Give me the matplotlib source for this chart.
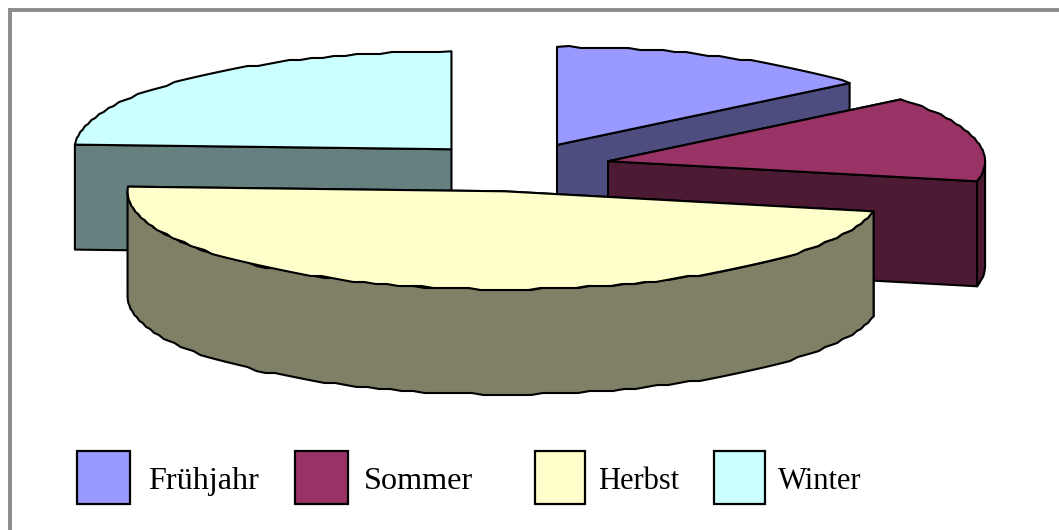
import numpy as np
import matplotlib
matplotlib.use("Agg")
import matplotlib.pyplot as plt
from matplotlib.patches import Polygon, Rectangle

# Data
seasons = ["Frühjahr", "Sommer", "Herbst", "Winter"]
shares = [14, 14, 47, 24]

# Styles
top_colors = ["#9999FF", "#993366", "#FFFFCC", "#CCFFFF"]
side_colors = ["#4D4D80", "#4D1A33", "#808066", "#668080"]
CX, CY = 516.5, 167
A, B = 377, 98
DEPTH = 105
EXPLODE = 0.25
START = 90.0
draw_order = [3, 0, 1, 2]
legend_box_x = [77, 295, 535, 714]
legend_box_w = [53, 53, 50, 51]
legend_text_x = [148.5, 363.5, 598, 778]
legend_font = [23.2, 23.2, 22, 22]

fig = plt.figure(figsize=(10.59, 5.30), dpi=100, facecolor="white")
ax = fig.add_axes([0, 0, 1, 1])
ax.set_xlim(0, 1059)
ax.set_ylim(530, 0)
ax.axis("off")

# Frame: only left and top sides are inside the crop
ax.plot([9.5, 9.5, 1059], [530, 9.5, 9.5], color="#8C8C8C", lw=2.8,
        solid_joinstyle="miter", zorder=0)


def rim(t1, t2, ox, oy):
    """Outline points between two parametric angles (degrees), slightly
    quantised like the low-resolution arc of the original."""
    n = max(2, int(abs(t2 - t1) / 1.8) + 1)
    t = np.radians(np.linspace(t1, t2, n))
    x = ox + A * np.cos(t)
    y = oy - B * np.sin(t)
    qx, qy = x.copy(), np.round(y / 2.0) * 2.0
    qx[0], qy[0], qx[-1], qy[-1] = x[0], y[0], x[-1], y[-1]
    return np.column_stack([qx, qy])


def add(pts, color, z):
    ax.add_patch(Polygon(pts, closed=True, facecolor=color, edgecolor="black",
                         lw=1.5, joinstyle="round", zorder=z))


total = float(sum(shares))
spans = [s / total * 360.0 for s in shares]
starts = START - np.concatenate([[0.0], np.cumsum(spans)[:-1]])
ends = starts - np.array(spans)

z = 2
for i in draw_order:
    t1, t2 = starts[i], ends[i]
    mid = np.radians((t1 + t2) / 2.0)
    ox = CX + EXPLODE * A * np.cos(mid)
    oy = CY - EXPLODE * B * np.sin(mid)
    arc = rim(t1, t2, ox, oy)
    down = np.array([0, DEPTH])
    apex = np.array([ox, oy])

    # Cut faces of the slice
    for p in (arc[0], arc[-1]):
        if abs(p[0] - apex[0]) > 1:
            add(np.array([apex, p, p + down, apex + down]), side_colors[i], z)
            z += 1

    # Outer wall: the part of the arc on the front half
    lo, hi = min(t1, t2), max(t1, t2)
    for a, b in ((-180.0, 0.0), (-540.0, -360.0), (180.0, 360.0)):
        u, v = max(lo, a), min(hi, b)
        if v > u:
            front = rim(v, u, ox, oy)
            add(np.vstack([front, (front + down)[::-1]]), side_colors[i], z)
            z += 1

    add(np.vstack([apex, arc]), top_colors[i], z)
    z += 1

# Legend
for name, col, bx, bw, tx, fs in zip(seasons, top_colors, legend_box_x,
                                     legend_box_w, legend_text_x, legend_font):
    ax.add_patch(Rectangle((bx, 450.5), bw, 53, facecolor=col,
                           edgecolor="black", lw=1.6, zorder=50))
    ax.text(tx, 489, name, family="Liberation Serif", fontsize=fs,
            color="black", ha="left", va="baseline", zorder=50)

fig.savefig("out.png", dpi=100, facecolor="white")
